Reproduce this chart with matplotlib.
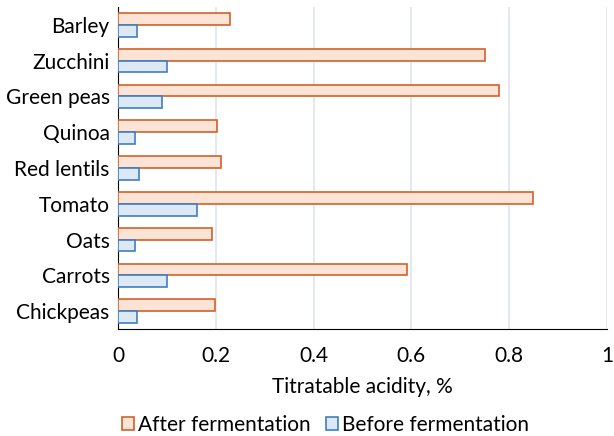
import numpy as np
import matplotlib.pyplot as plt

plt.rcParams['font.family'] = ['Lato', 'DejaVu Sans']
plt.rcParams['font.size'] = 15

categories = ['Barley', 'Zucchini', 'Green peas', 'Quinoa', 'Red lentils',
              'Tomato', 'Oats', 'Carrots', 'Chickpeas']
after = [0.230, 0.750, 0.780, 0.202, 0.211, 0.849, 0.192, 0.590, 0.199]
before = [0.039, 0.101, 0.091, 0.035, 0.043, 0.161, 0.035, 0.101, 0.039]
xticks = [0, 0.2, 0.4, 0.6, 0.8, 1]
xtick_labels = ['0', '0.2', '0.4', '0.6', '0.8', '1']

fig = plt.figure(figsize=(6.14, 4.36), dpi=100)
ax = fig.add_axes([118 / 614, 1 - 329 / 436, 489 / 614, 322 / 436])

y = np.arange(len(categories))
h = 0.33
ax.barh(y - h / 2, after, height=h, color='#fbe4d6', edgecolor='#d2622a',
        linewidth=1.2, label='After fermentation', zorder=3)
ax.barh(y + h / 2, before, height=h, color='#dde8f5', edgecolor='#3f7fc0',
        linewidth=1.2, label='Before fermentation', zorder=3)

ax.set_ylim(len(categories) - 0.5, -0.5)
ax.set_yticks(y)
ax.set_yticklabels(categories)
ax.set_xlim(0, 1)
ax.set_xticks(xticks)
ax.set_xticklabels(xtick_labels)
ax.set_xlabel('Titratable acidity, %', labelpad=8)

ax.grid(axis='x', color='#dfe4ec', linewidth=1.2, zorder=0)
for s in ['top', 'right']:
    ax.spines[s].set_visible(False)
ax.spines['left'].set_color('black')
ax.spines['bottom'].set_color('black')
ax.tick_params(axis='x', length=0, pad=12)
ax.tick_params(axis='y', length=0, pad=6)

fig.legend(loc='lower center', bbox_to_anchor=(0.53, -0.04), ncol=2, frameon=False,
           handlelength=0.6, handleheight=0.6, handletextpad=0.2, columnspacing=0.7)

plt.savefig('out.png', dpi=100)
